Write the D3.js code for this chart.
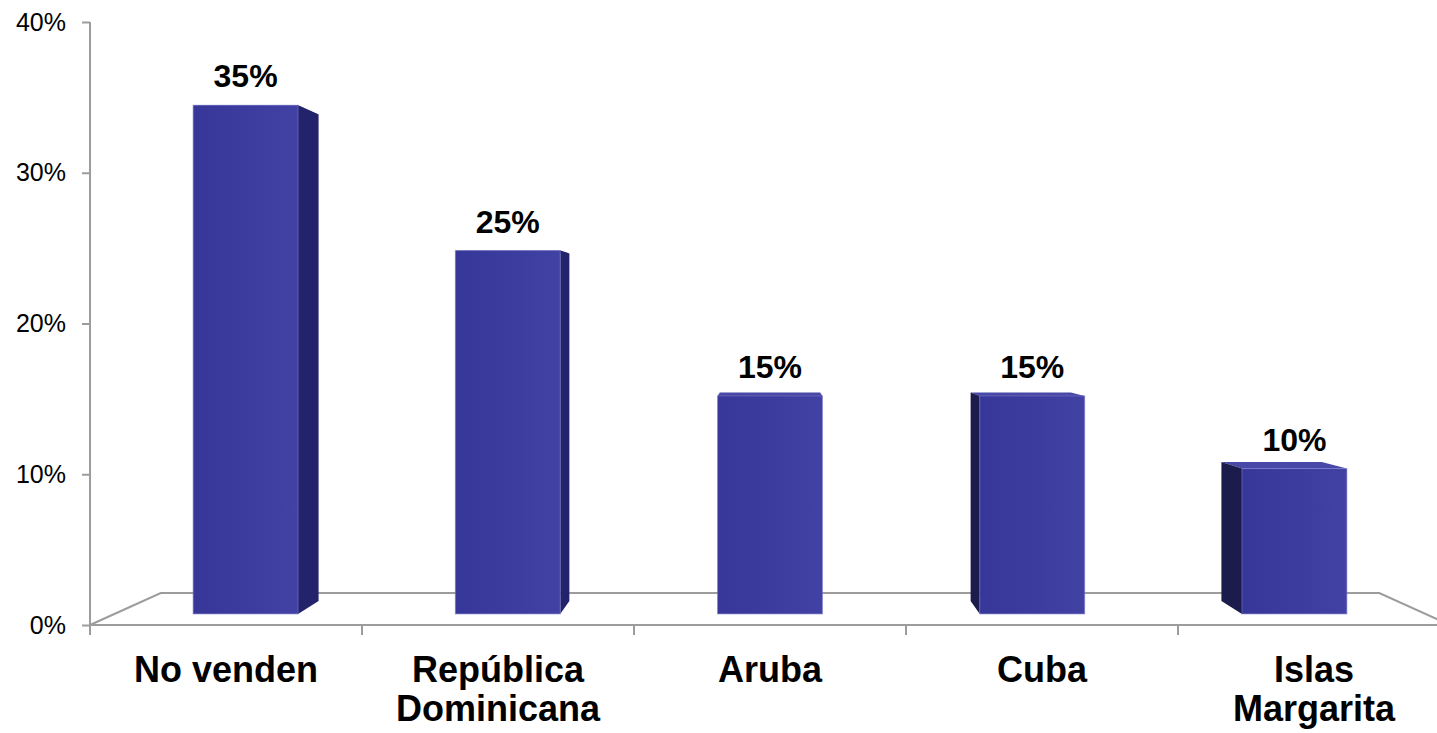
<!DOCTYPE html>
<html>
<head>
<meta charset="utf-8">
<script src="https://cdn.jsdelivr.net/npm/d3@7"></script>
<style>
    body { margin: 0; background: #fff; }
    svg { display: block; font-family: 'Liberation Sans', Arial, sans-serif; }
</style>
</head>
<body>
<script>
// chart data
const categories = ['No venden', 'República Dominicana', 'Aruba', 'Cuba', 'Islas Margarita']
const categoryLines = [['No venden'], ['República', 'Dominicana'], ['Aruba'], ['Cuba'], ['Islas', 'Margarita']]
const values = [0.35, 0.25, 0.15, 0.15, 0.10]
const yTicks = [0, 0.1, 0.2, 0.3, 0.4]

const width = 1437, height = 733

const svg = d3.select('body').append('svg')
    .attr('width', width)
    .attr('height', height)

// world scales (front plane of the floor)
const x = d3.scaleBand()
    .domain(categories)
    .range([90, 1450])
    .paddingInner(0.6)
    .paddingOuter(0.3)

const y = d3.scaleLinear()
    .domain([0, 0.4])
    .range([625, 22])

// simple perspective: vanishing point + depth factor
const vp = [770, 317]
const floorBack = 0.896
const barFront = 0.964
const barBack = 0.922

function proj(X, Y, s) {
    return [vp[0] + (X - vp[0]) * s, vp[1] + (Y - vp[1]) * s]
}
function poly(pts) {
    return pts.map(p => p.join(',')).join(' ')
}

const grey = '#9c9c9c'

// floor
const x0 = x.range()[0], x1 = x.range()[1]
const floor = svg.append('g').attr('fill', 'none').attr('stroke', grey).attr('stroke-width', 2)
floor.append('polyline')
    .attr('points', poly([proj(x0, y(0), 1), proj(x0, y(0), floorBack), proj(x1, y(0), floorBack), proj(x1, y(0), 1)]))
floor.append('line')
    .attr('x1', x0).attr('x2', x1)
    .attr('y1', y(0)).attr('y2', y(0))

// category boundary ticks
const bounds = d3.range(categories.length + 1).map(i => x0 + i * x.step())
floor.selectAll('.ctick')
    .data(bounds)
    .enter().append('line')
    .attr('class', 'ctick')
    .attr('x1', d => d).attr('x2', d => d)
    .attr('y1', y(0)).attr('y2', y(0) + 10)

// y axis
const yAxis = svg.append('g')
    .attr('transform', 'translate(' + x0 + ',0)')
    .call(d3.axisLeft(y).tickValues(yTicks).tickFormat(d3.format('.0%')).tickSize(8).tickPadding(16))
yAxis.select('.domain').attr('stroke', grey).attr('stroke-width', 2)
    .attr('d', 'M0,' + y(0.4) + 'V' + (y(0) + 10))
yAxis.selectAll('.tick line').attr('stroke', grey).attr('stroke-width', 2)
yAxis.selectAll('.tick text')
    .attr('fill', '#000')
    .style('font-size', '25px')

// gradient for front faces
const defs = svg.append('defs')
const grad = defs.append('linearGradient').attr('id', 'front')
    .attr('x1', '0%').attr('x2', '100%').attr('y1', '0%').attr('y2', '0%')
grad.append('stop').attr('offset', '0%').attr('stop-color', '#37379a')
grad.append('stop').attr('offset', '60%').attr('stop-color', '#3d3d9f')
grad.append('stop').attr('offset', '100%').attr('stop-color', '#4242a4')

// bars
const bars = svg.append('g').selectAll('g')
    .data(categories)
    .enter().append('g')
    .attr('class', 'bar')

bars.each(function (c, i) {
    const g = d3.select(this)
    const bx0 = x(c), bx1 = x(c) + x.bandwidth()
    const cx = bx0 + x.bandwidth() / 2
    const top = y(values[i]), base = y(0)

    // top face
    g.append('polygon')
        .attr('points', poly([proj(bx0, top, barFront), proj(bx1, top, barFront), proj(bx1, top, barBack), proj(bx0, top, barBack)]))
        .attr('fill', '#4848a8')

    // side face
    if (Math.abs(cx - vp[0]) > 1) {
        const sx = cx < vp[0] ? bx1 : bx0
        g.append('polygon')
            .attr('points', poly([proj(sx, top, barFront), proj(sx, top, barBack), proj(sx, base, barBack), proj(sx, base, barFront)]))
            .attr('fill', cx < vp[0] ? '#23236b' : '#1b1b4c')
    }

    // front face
    const p0 = proj(bx0, top, barFront), p1 = proj(bx1, base, barFront)
    g.append('rect')
        .attr('x', p0[0]).attr('y', p0[1])
        .attr('width', p1[0] - p0[0]).attr('height', p1[1] - p0[1])
        .attr('fill', 'url(#front)')
        .attr('stroke', '#7676c8').attr('stroke-width', 1).attr('stroke-opacity', 0.6)

    // value label
    g.append('text')
        .attr('x', proj(cx, top, barFront)[0])
        .attr('y', p0[1] - 18)
        .attr('text-anchor', 'middle')
        .style('font-size', '32px')
        .style('font-weight', 'bold')
        .text(d3.format('.0%')(values[i]))
})

// category labels
const labels = svg.append('g').selectAll('text')
    .data(categories)
    .enter().append('text')
    .attr('text-anchor', 'middle')
    .style('font-size', '36px')
    .style('font-weight', 'bold')
    .attr('x', d => x(d) + x.bandwidth() / 2)
    .attr('y', 682)

labels.selectAll('tspan')
    .data((d, i) => categoryLines[i])
    .enter().append('tspan')
    .attr('x', function () { return d3.select(this.parentNode).attr('x') })
    .attr('dy', (d, j) => j === 0 ? 0 : 39)
    .text(d => d)
</script>
</body>
</html>
